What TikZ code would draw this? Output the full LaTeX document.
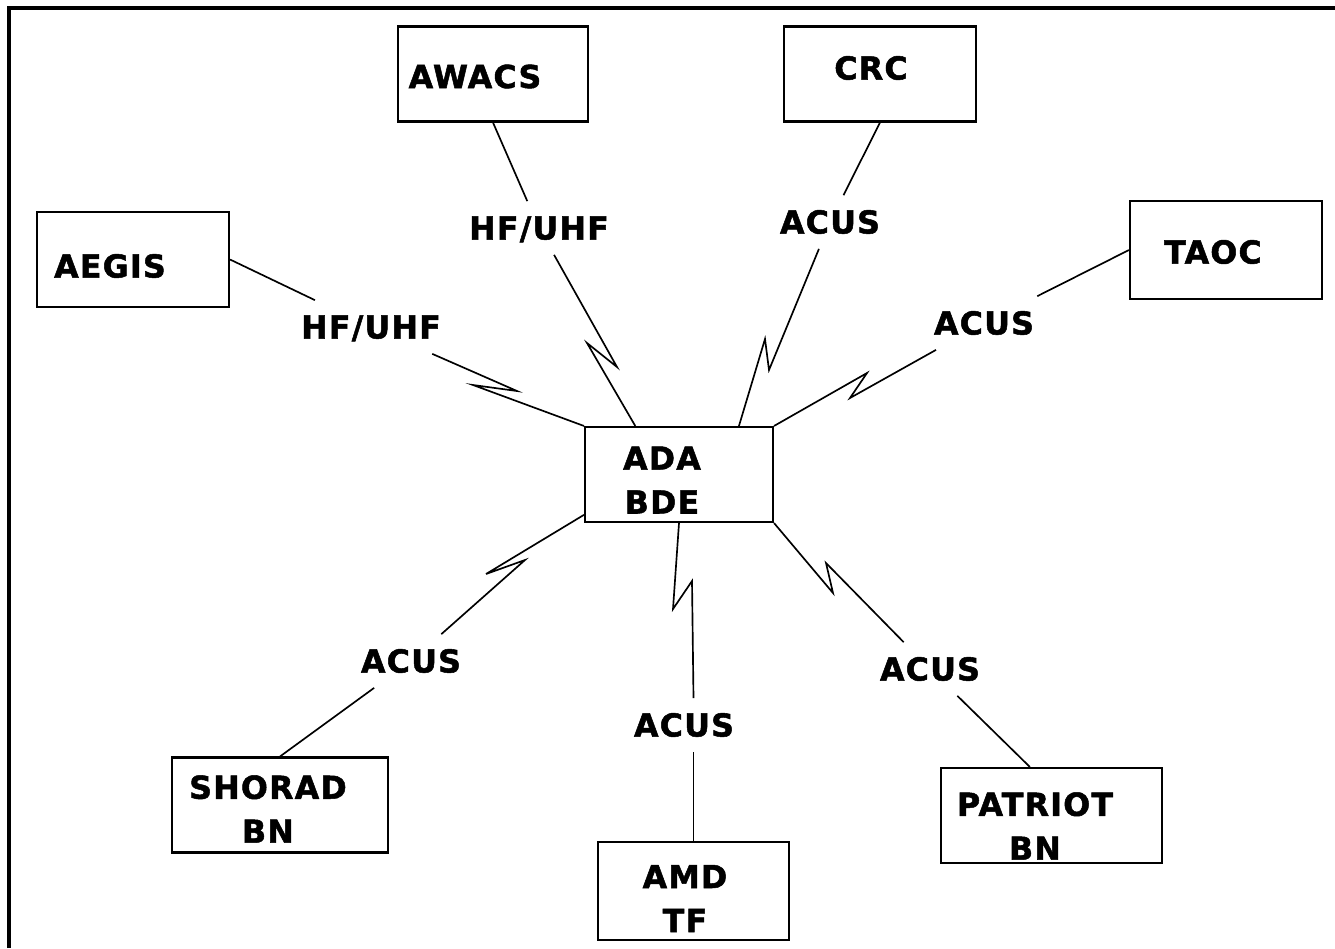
\documentclass[tikz,border=0pt]{standalone}
\usepackage{fontspec}
\newfontfamily\tagfont{DejaVu Sans}[LetterSpace=4, BoldFeatures={FakeBold=1.6}]
\tikzset{
  unit/.style={draw, line width=1.2pt, minimum width=3.8cm, minimum height=1.9cm, inner sep=0pt},
  tag/.style={font=\tagfont\bfseries\fontsize{18pt}{25pt}\selectfont, align=center, inner sep=0pt},
  band/.style={font=\tagfont\bfseries\fontsize{18pt}{25pt}\selectfont, inner sep=0.3cm, text height=0.46cm, text depth=0cm},
  link/.style={line width=0.95pt}
}

\begin{document}
\begin{tikzpicture}[x=0.02cm, y=-0.02cm]
  \useasboundingbox (0,0) rectangle (1335,948);
  % frame
  \draw[line width=0.08cm] (9,948) -- (9,8) -- (1335,8);

  % units
  \node[unit, label={[tag, xshift=-0.36cm, yshift=-0.05cm]center:AWACS}] (awacs) at (493,74) {};
  \node[unit, minimum width=3.84cm, label={[tag, xshift=-0.18cm, yshift=0.12cm]center:CRC}] (crc) at (880,74) {};
  \node[unit, minimum width=3.84cm, label={[tag, xshift=-0.46cm, yshift=-0.13cm]center:AEGIS}] (aegis) at (133,259.5) {};
  \node[unit, minimum width=3.84cm, minimum height=1.96cm, label={[tag, xshift=-0.26cm, yshift=-0.04cm]center:TAOC}] (taoc) at (1226,250) {};
  \node[unit, minimum width=3.76cm, label={[tag, xshift=-0.34cm, yshift=-0.11cm]center:{ADA\\BDE}}] (ada) at (679,474.5) {};
  \node[unit, minimum width=4.32cm, label={[tag, xshift=-0.24cm, yshift=-0.08cm]center:{SHORAD\\BN}}] (shorad) at (280,805) {};
  \node[unit, minimum width=3.82cm, minimum height=1.96cm, label={[tag, xshift=-0.17cm, yshift=-0.15cm]center:{AMD\\TF}}] (amd) at (693.5,891) {};
  \node[unit, minimum width=4.42cm, label={[tag, xshift=-0.33cm, yshift=-0.21cm]center:{PATRIOT\\BN}}] (patriot) at (1051.5,815.5) {};

  % link labels
  \node[band] (hfa) at (539,228) {HF/UHF};
  \node[band] (hfb) at (371,327) {HF/UHF};
  \node[band] (acusa) at (830,222) {ACUS};
  \node[band] (acusb) at (984,323) {ACUS};
  \node[band] (acusc) at (411,661) {ACUS};
  \node[band] (acusd) at (684,725) {ACUS};
  \node[band] (acuse) at (930,669) {ACUS};

  % lines to the units
  \draw[link] (awacs.south) -- (hfa);
  \draw[link] (crc.south) -- (acusa);
  \draw[link] (aegis.east) -- (hfb);
  \draw[link] (taoc.west) -- (acusb);
  \draw[link] (shorad.north) -- (acusc);
  \draw[link] (amd.north) -- (amd.north |- acusd.south);
  \draw[link] (patriot.114) -- (acuse);

  % radio links to the brigade
  \draw[link] (hfa) -- (617,367) -- (587,343) -- (ada.132);
  \draw[link] (hfb) -- (517,391) -- (473,385) -- (ada.north west);
  \draw[link] (acusa) -- (769,370) -- (765,339) -- (ada.39);
  \draw[link] (acusb) -- (850,398) -- (867,373) -- (ada.north east);
  \draw[link] (acusc) -- (525,560) -- (486,574) -- (ada.203);
  \draw[link] (amd.north |- acusd.north) -- (692,581) -- (673,609) -- (ada.south);
  \draw[link] (acuse) -- (826,563) -- (833,593) -- (ada.south east);
\end{tikzpicture}
\end{document}
